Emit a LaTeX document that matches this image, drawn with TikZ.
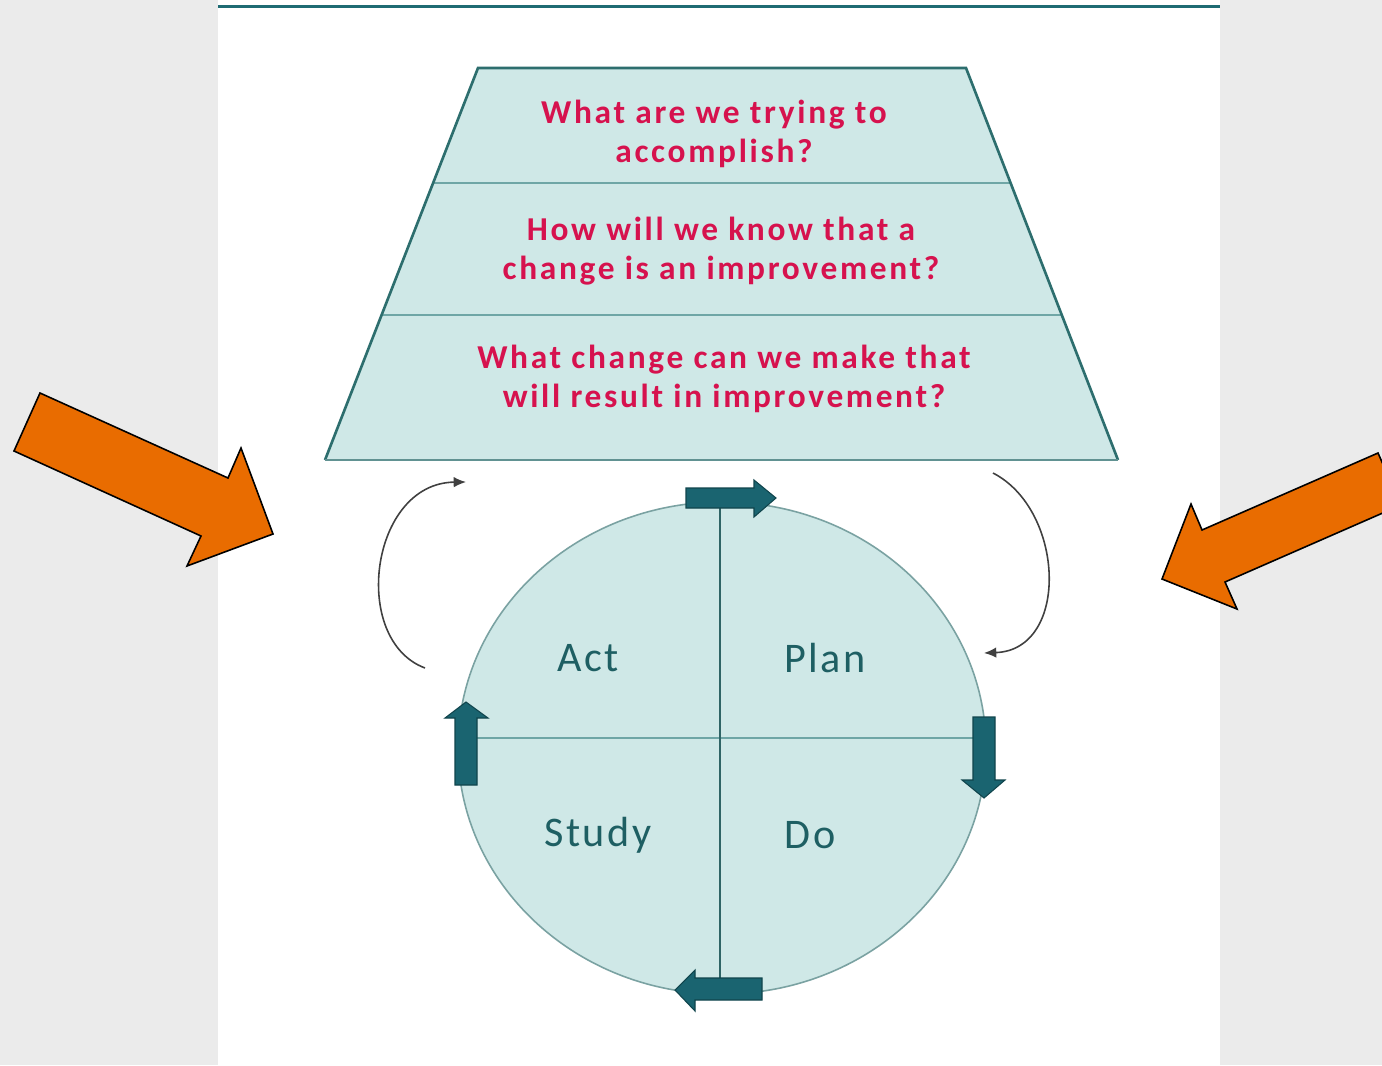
\documentclass[tikz,border=0pt]{standalone}
\usepackage{fontspec}
\usetikzlibrary{shapes.geometric,arrows.meta}
\newfontfamily\qfont[LetterSpace=8]{Carlito}
\newfontfamily\pfont[LetterSpace=6]{Carlito}
\definecolor{pagegray}{HTML}{EBEBEB}
\definecolor{rulecol}{HTML}{1F6B73}
\definecolor{paleteal}{HTML}{CFE8E7}
\definecolor{edgeteal}{HTML}{2D6E6E}
\definecolor{softteal}{HTML}{6FA6A6}
\definecolor{rimteal}{HTML}{7AA2A2}
\definecolor{axisteal}{HTML}{2F6466}
\definecolor{blockteal}{HTML}{1A6470}
\definecolor{blockedge}{HTML}{10444C}
\definecolor{qred}{HTML}{D6124E}
\definecolor{labteal}{HTML}{1E5F63}
\definecolor{bigorange}{HTML}{E96C00}
\tikzset{
  x=0.02cm, y=-0.02cm,
  question/.style={text=qred, font=\qfont\bfseries\fontsize{19}{22.6}\selectfont, align=center, inner sep=0pt},
  phase/.style={text=labteal, font=\pfont\fontsize{24}{28}\selectfont, inner sep=0pt},
  blockarrow/.style={fill=blockteal, draw=blockedge, line width=0.6pt, line join=miter},
  loop/.style={draw=black!75, line width=0.9pt, -{Latex[length=7pt,width=6pt]}},
  pointer/.style={fill=bigorange, draw=black, line width=0.9pt, line join=miter},
}
\begin{document}
\begin{tikzpicture}
\useasboundingbox (0,0) rectangle (1382,1065);
\clip (0,0) rectangle (1382,1065);
% page and slide panel
\fill[pagegray] (0,0) rectangle (1382,1065);
\fill[white] (218,0) rectangle (1220,1065);
\draw[rulecol, line width=1.8pt] (218,6.5) -- (1220,6.5);

% funnel of the three questions
\coordinate (tl) at (478,68);
\coordinate (tr) at (966,68);
\coordinate (bl) at (325,460);
\coordinate (br) at (1118,460);
\fill[paleteal] (tl) -- (tr) -- (br) -- (bl) -- cycle;
\draw[softteal, line width=1.2pt] (433,183) -- (1011,183);
\draw[softteal, line width=1.2pt] (382,315) -- (1062,315);
\draw[edgeteal, line width=1.5pt] (bl) -- (tl) -- (tr) -- (br);
\draw[edgeteal!75, line width=1.5pt] (bl) -- (br);
\node[question] (q1) at (714,134) {What are we trying to\\accomplish?};
\node[question] (q2) at (721,251) {How will we know that a\\change is an improvement?};
\node[question] (q3) at (724,379) {What change can we make that\\will result in improvement?};

% PDCA cycle
\node[ellipse, draw=rimteal, fill=paleteal, line width=0.9pt, minimum width=528*0.02cm, minimum height=492*0.02cm, inner sep=0pt] (pdca) at (722,748) {};
\draw[softteal, line width=1.5pt] (pdca.west |- 0,738) -- (pdca.east |- 0,738);
\draw[axisteal, line width=1.6pt] (720,502) -- (720,995);
\node[phase] (act) at (588,658) {Act};
\node[phase] (plan) at (825,658) {Plan};
\node[phase] (study) at (598,835) {Study};
\node[phase] (do) at (810,835) {Do};

% block arrows around the cycle
\draw[blockarrow] (686,488) -- (754,488) -- (754,480) -- (776,498) -- (754,517) -- (754,508) -- (686,508) -- cycle;
\draw[blockarrow] (973,717) -- (995,717) -- (995,780) -- (1005,780) -- (984,798) -- (962,780) -- (973,780) -- cycle;
\draw[blockarrow] (762,978) -- (695,978) -- (695,970) -- (675,990) -- (695,1011) -- (695,1000) -- (762,1000) -- cycle;
\draw[blockarrow] (455,785) -- (455,718) -- (445,718) -- (466,702) -- (488,718) -- (477,718) -- (477,785) -- cycle;

% return loops between funnel and cycle
\coordinate (lstart) at (425,668);
\coordinate (lend) at (466,482);
\coordinate (rstart) at (993,473);
\coordinate (rend) at (984,653);
\draw[loop] (lstart) .. controls (350,640) and (370,483) .. (lend);
\draw[loop] (rstart) .. controls (1065,510) and (1070,650) .. (rend);

% orange pointers
\draw[pointer] (40,393) -- (228,478) -- (241,448) -- (273,534) -- (187,566) -- (201,536) -- (14,451) -- cycle;
\draw[pointer] (1378,453) -- (1202,530) -- (1191,504) -- (1162,579) -- (1237,609) -- (1225,582) -- (1401,505) -- cycle;
\end{tikzpicture}
\end{document}
